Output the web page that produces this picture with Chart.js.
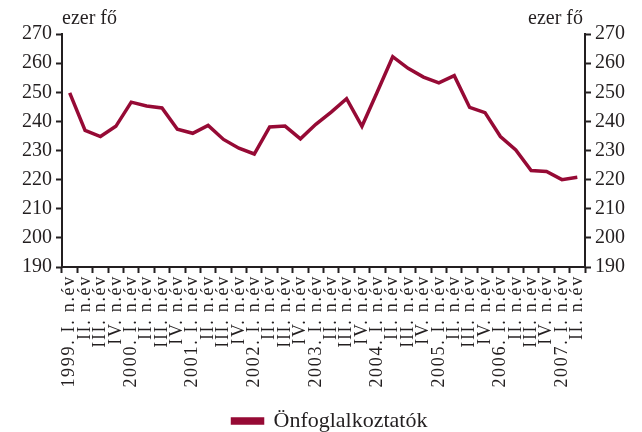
<!DOCTYPE html>
<html>
<head>
<meta charset="utf-8">
<script src="https://cdn.jsdelivr.net/npm/chart.js@4"></script>
<style>
  html, body { margin: 0; padding: 0; background: #fff; }
  #wrap { position: relative; width: 642px; height: 432px; }
</style>
</head>
<body>
<div id="wrap"><canvas id="chart" width="642" height="432"></canvas></div>
<script>
// categories (quarters)
const years = ['1999.', '2000.', '2001.', '2002.', '2003.', '2004.', '2005.', '2006.', '2007.'];
const quarters = ['I. n.év', 'II. n.év', 'III. n.év', 'IV. n.év'];
const quarterCount = [4, 4, 4, 4, 4, 4, 4, 4, 2];

// self-employed, thousand persons
const selfEmployed = [
  249.8, 236.9, 234.8, 238.3,
  246.6, 245.3, 244.6, 237.3,
  235.9, 238.6, 233.8, 230.8,
  228.8, 238.1, 238.4, 234.0,
  239.0, 243.2, 247.8, 238.3,
  250.2, 262.2, 258.2, 255.2,
  253.2, 255.7, 244.8, 243.0,
  234.8, 230.2, 223.1, 222.8,
  220.0, 220.8
];

const yMin = 190, yMax = 270, yStep = 10;
const unitLabel = 'ezer fő';
const seriesName = 'Önfoglalkoztatók';

const labels = [];
years.forEach((y, i) => {
  for (let q = 0; q < quarterCount[i]; q++) {
    labels.push(q === 0 ? y + ' ' + quarters[q] : quarters[q]);
  }
});

const ink = '#231f20';
const lineColor = '#960a35';
const serif = 'Liberation Serif';

// "ezer fő" above both axes
const unitTitles = {
  id: 'unitTitles',
  afterDraw(chart) {
    const ctx = chart.ctx;
    const area = chart.chartArea;
    ctx.save();
    ctx.font = '20px "' + serif + '"';
    ctx.fillStyle = ink;
    ctx.textBaseline = 'alphabetic';
    ctx.textAlign = 'left';
    ctx.fillText(unitLabel, area.left, 24);
    ctx.textAlign = 'right';
    ctx.fillText(unitLabel, area.right - 2, 24);
    ctx.restore();
  }
};

// the quarter labels in the original are spread out, so widen them a bit
const spreadLabels = {
  id: 'spreadLabels',
  beforeDraw(chart) {
    const x = chart.scales.x;
    if (!x || x._spread) return;
    const orig = x.drawLabels.bind(x);
    x.drawLabels = function (area) {
      const ctx = this.ctx;
      const prev = ctx.letterSpacing;
      ctx.letterSpacing = '1.7px';
      orig(area);
      ctx.letterSpacing = prev || '0px';
    };
    x._spread = true;
  }
};

const yAxisBase = {
  type: 'linear',
  min: yMin,
  max: yMax,
  ticks: { stepSize: yStep, color: ink, font: { family: serif, size: 20 }, padding: 4 },
  grid: { drawOnChartArea: false, tickLength: 6, tickColor: ink, tickWidth: 2 },
  border: { display: true, color: ink, width: 2 }
};

new Chart(document.getElementById('chart'), {
  type: 'line',
  data: {
    labels: labels,
    datasets: [{
      label: seriesName,
      data: selfEmployed,
      borderColor: lineColor,
      backgroundColor: lineColor,
      borderWidth: 3.5,
      pointRadius: 0,
      tension: 0,
      yAxisID: 'y'
    }]
  },
  options: {
    responsive: false,
    animation: false,
    layout: { padding: { top: 34, left: 18, right: 0, bottom: -10 } },
    plugins: {
      legend: {
        position: 'bottom',
        labels: {
          color: ink,
          font: { family: serif, size: 22 },
          boxWidth: 30,
          boxHeight: 4,
          padding: 6
        }
      },
      tooltip: { enabled: false }
    },
    scales: {
      x: {
        type: 'category',
        offset: true,
        ticks: {
          autoSkip: false,
          maxRotation: 90,
          minRotation: 90,
          color: ink,
          font: { family: serif, size: 18 },
          padding: 2
        },
        grid: { drawOnChartArea: false, offset: true, tickLength: 6, tickColor: ink, tickWidth: 2 },
        border: { display: true, color: ink, width: 2 },
        afterFit(scale) { scale.height = 137; }
      },
      y: Object.assign({}, yAxisBase, {
        position: 'left',
        afterFit(scale) { scale.width = 44; }
      }),
      y2: Object.assign({}, yAxisBase, {
        position: 'right',
        afterFit(scale) { scale.width = 57; }
      })
    }
  },
  plugins: [unitTitles, spreadLabels]
});
</script>
</body>
</html>
